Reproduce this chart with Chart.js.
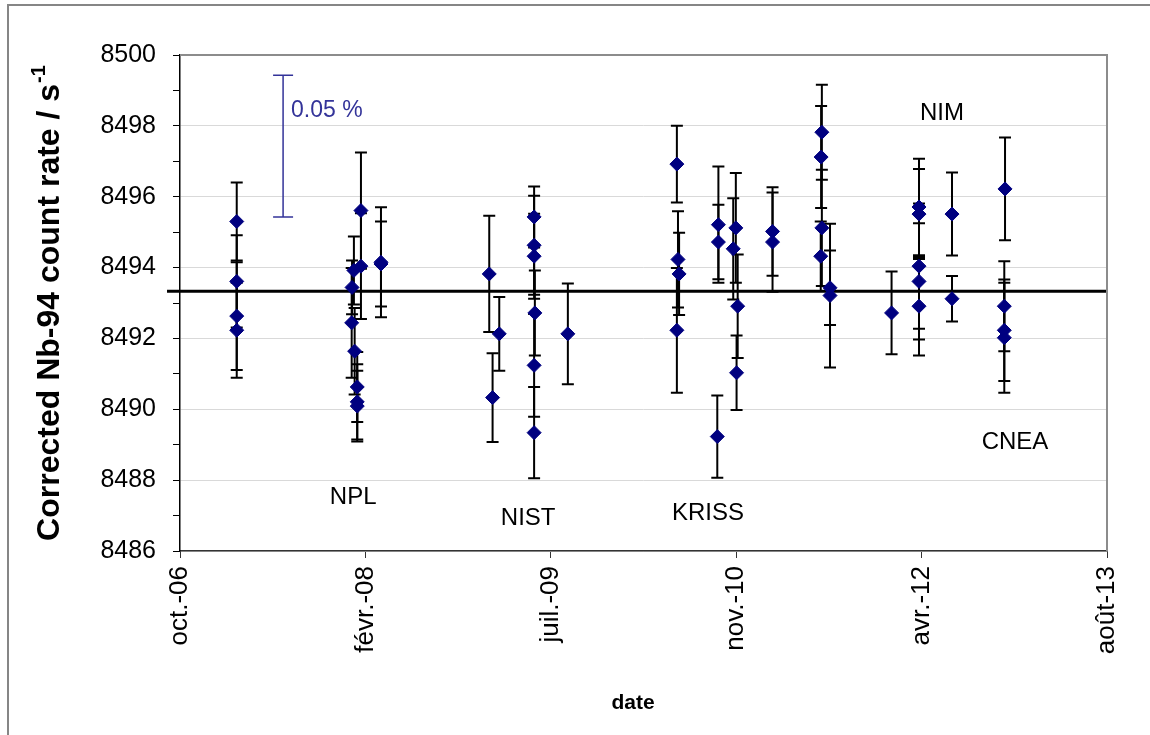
<!DOCTYPE html>
<html>
<head>
<meta charset="utf-8">
<script src="https://cdn.jsdelivr.net/npm/chart.js@4.4.0/dist/chart.umd.min.js"></script>
<style>
  html, body { margin: 0; padding: 0; background: #fff; }
  canvas { display: block; }
</style>
</head>
<body>
<canvas id="nbChart" width="1150" height="735"></canvas>
<script>
/* Data */
// measurement dates, as Excel day serials (39000 = 10 oct. 2006)
const measDay = [
  39153, 39153, 39153, 39153,
  39488, 39469, 39488, 39542, 39542, 39464, 39463, 39471, 39478, 39478, 39478,
  39834, 39861, 39843, 39955, 39955, 39955, 39957, 39955, 39955, 40046,
  40340, 40343, 40346, 40340, 40452, 40452, 40449, 40499, 40492, 40504, 40501, 40598, 40598,
  40731, 40729, 40731, 40728, 40753, 40753,
  40919, 40993, 40993, 40993, 40993, 40993, 41082, 41082,
  41225, 41223, 41223, 41223
];
// corrected count rate (s-1)
const countRate = [
  8495.30, 8493.61, 8492.63, 8492.23,
  8495.61, 8493.92, 8494.04, 8494.15, 8494.10, 8493.44, 8492.44, 8491.64, 8490.63, 8490.21, 8490.09,
  8493.82, 8492.13, 8490.33, 8495.43, 8494.63, 8494.32, 8492.72, 8491.24, 8489.34, 8492.13,
  8496.92, 8494.23, 8493.82, 8492.23, 8495.21, 8494.72, 8489.23, 8495.12, 8494.53, 8492.91, 8491.03, 8495.02, 8494.72,
  8497.82, 8497.12, 8495.12, 8494.32, 8493.43, 8493.21,
  8492.72, 8495.71, 8495.51, 8494.04, 8493.61, 8492.91, 8495.51, 8493.12,
  8496.22, 8492.91, 8492.23, 8492.02
];
// standard uncertainty (s-1)
const rateUnc = [
  1.10, 1.30, 1.52, 1.34,
  1.64, 0.96, 1.49, 1.55, 1.20, 0.76, 1.55, 1.22, 0.99, 1.06, 1.00,
  1.64, 1.04, 1.25, 0.86, 1.40, 1.20, 1.20, 1.45, 1.29, 1.42,
  1.08, 1.36, 1.16, 1.76, 1.64, 1.05, 1.16, 1.55, 1.43, 1.46, 1.05, 1.25, 1.40,
  1.34, 1.44, 1.64, 0.98, 1.05, 2.03,
  1.17, 1.36, 1.27, 1.77, 1.64, 1.39, 1.17, 0.64,
  1.45, 1.27, 1.43, 1.55
];
const meanRate = 8493.33;
const meanLineDays = [38965, 41500];

const xTickValues = [39000, 39500, 40000, 40500, 41000, 41500];
const xTickLabels = ["oct.-06", "févr.-08", "juil.-09", "nov.-10", "avr.-12", "août-13"];

// laboratory names, anchored in data units
const labNames = ["NPL", "NIST", "KRISS", "NIM", "CNEA"];
const labNameDay = [39467, 39939, 40424, 41055, 41252];
const labNameRate = [8487.50, 8486.92, 8487.06, 8498.36, 8489.08];

// 0.05 % scale bar
const scaleBarDay = 39278;
const scaleBarRange = [8495.43, 8499.43];

const FONT = "'Liberation Sans', Arial, sans-serif";

/* Error bars drawn under the diamonds */
const errorBars = {
  id: "errorBars",
  beforeDatasetsDraw(chart) {
    const { ctx, scales: { x, y } } = chart;
    ctx.save();
    ctx.strokeStyle = "#000";
    ctx.lineWidth = 2;
    measDay.forEach((d, i) => {
      const px = x.getPixelForValue(d);
      const top = y.getPixelForValue(countRate[i] + rateUnc[i]);
      const bot = y.getPixelForValue(countRate[i] - rateUnc[i]);
      ctx.beginPath();
      ctx.moveTo(px, top); ctx.lineTo(px, bot);
      ctx.moveTo(px - 6, top); ctx.lineTo(px + 6, top);
      ctx.moveTo(px - 6, bot); ctx.lineTo(px + 6, bot);
      ctx.stroke();
    });
    ctx.restore();
  }
};

/* Text, scale bar, frame and axis titles */
const decorations = {
  id: "decorations",
  afterDatasetsDraw(chart) {
    const { ctx, scales: { x, y } } = chart;
    ctx.save();
    // 0.05 % bar
    const bx = x.getPixelForValue(scaleBarDay);
    const b0 = y.getPixelForValue(scaleBarRange[0]);
    const b1 = y.getPixelForValue(scaleBarRange[1]);
    ctx.strokeStyle = "#333399";
    ctx.lineWidth = 1.5;
    ctx.beginPath();
    ctx.moveTo(bx, b0); ctx.lineTo(bx, b1);
    ctx.moveTo(bx - 10, b0); ctx.lineTo(bx + 10, b0);
    ctx.moveTo(bx - 10, b1); ctx.lineTo(bx + 10, b1);
    ctx.stroke();
    ctx.fillStyle = "#333399";
    ctx.font = "23px " + FONT;
    ctx.textAlign = "left";
    ctx.textBaseline = "alphabetic";
    ctx.fillText("0.05 %", bx + 8, 117);

    // laboratory names
    ctx.fillStyle = "#000";
    ctx.font = "24px " + FONT;
    ctx.textAlign = "center";
    ctx.textBaseline = "middle";
    labNames.forEach((name, i) => {
      ctx.fillText(name, x.getPixelForValue(labNameDay[i]), y.getPixelForValue(labNameRate[i]));
    });
    ctx.restore();
  },
  afterDraw(chart) {
    const { ctx, chartArea: a } = chart;
    ctx.save();
    // plot area top/right border
    ctx.strokeStyle = "#8c8c8c";
    ctx.lineWidth = 2;
    ctx.beginPath();
    ctx.moveTo(a.left, a.top); ctx.lineTo(a.right, a.top); ctx.lineTo(a.right, a.bottom);
    ctx.stroke();
    // outer frame
    ctx.strokeStyle = "#868686";
    ctx.strokeRect(8, 5, 1170, 760);

    // x title
    ctx.fillStyle = "#000";
    ctx.font = "bold 21px " + FONT;
    ctx.textAlign = "center";
    ctx.textBaseline = "middle";
    ctx.fillText("date", 633, 703);

    // y title with superscript
    const main = "Corrected Nb-94 count rate / s";
    const sup = "-1";
    ctx.translate(50, (a.top + a.bottom) / 2);
    ctx.rotate(-Math.PI / 2);
    ctx.font = "bold 32px " + FONT;
    const w1 = ctx.measureText(main).width;
    ctx.font = "bold 20px " + FONT;
    const w2 = ctx.measureText(sup).width;
    const start = -(w1 + w2 + 1) / 2;
    ctx.textAlign = "left";
    ctx.font = "bold 32px " + FONT;
    ctx.fillText(main, start, 0);
    ctx.font = "bold 20px " + FONT;
    ctx.fillText(sup, start + w1 + 1, -11);
    ctx.restore();
  }
};

new Chart(document.getElementById("nbChart"), {
  type: "scatter",
  data: {
    datasets: [
      {
        label: "Nb-94",
        data: measDay.map((d, i) => ({ x: d, y: countRate[i] })),
        pointStyle: "rectRot",
        pointRadius: 7,
        backgroundColor: "#000080",
        borderColor: "#000080",
        borderWidth: 1,
        showLine: false
      },
      {
        label: "mean",
        type: "line",
        data: meanLineDays.map((d) => ({ x: d, y: meanRate })),
        borderColor: "#000",
        borderWidth: 3,
        pointRadius: 0,
        clip: false
      }
    ]
  },
  options: {
    responsive: false,
    animation: false,
    devicePixelRatio: 1,
    layout: { padding: { left: 8, top: 55, right: 43, bottom: 0 } },
    plugins: { legend: { display: false }, tooltip: { enabled: false } },
    scales: {
      x: {
        type: "linear",
        min: 39000,
        max: 41500,
        afterBuildTicks: (scale) => { scale.ticks = xTickValues.map((v) => ({ value: v })); },
        afterFit: (scale) => { scale.height = 184; },
        ticks: {
          minRotation: 90,
          maxRotation: 90,
          padding: 8,
          color: "#000",
          font: { family: FONT, size: 26 },
          callback: (v) => xTickLabels[xTickValues.indexOf(v)]
        },
        grid: { drawOnChartArea: false, tickLength: 7, tickColor: "#333", tickWidth: 1 },
        border: { color: "#333", width: 1.5 }
      },
      y: {
        min: 8486,
        max: 8500,
        afterFit: (scale) => { scale.width = 172; },
        ticks: {
          stepSize: 1,
          padding: 17,
          color: "#000",
          font: { family: FONT, size: 25 },
          callback: (v) => (Math.round(v) % 2 === 0 ? String(Math.round(v)) : "")
        },
        grid: {
          color: (c) => (c.tick && Math.round(c.tick.value) % 2 === 0 ? "#d9d9d9" : "rgba(0,0,0,0)"),
          lineWidth: 1,
          tickLength: 7,
          tickColor: "#000"
        },
        border: { color: "#000", width: 1.5 }
      }
    }
  },
  plugins: [errorBars, decorations]
});
</script>
</body>
</html>
